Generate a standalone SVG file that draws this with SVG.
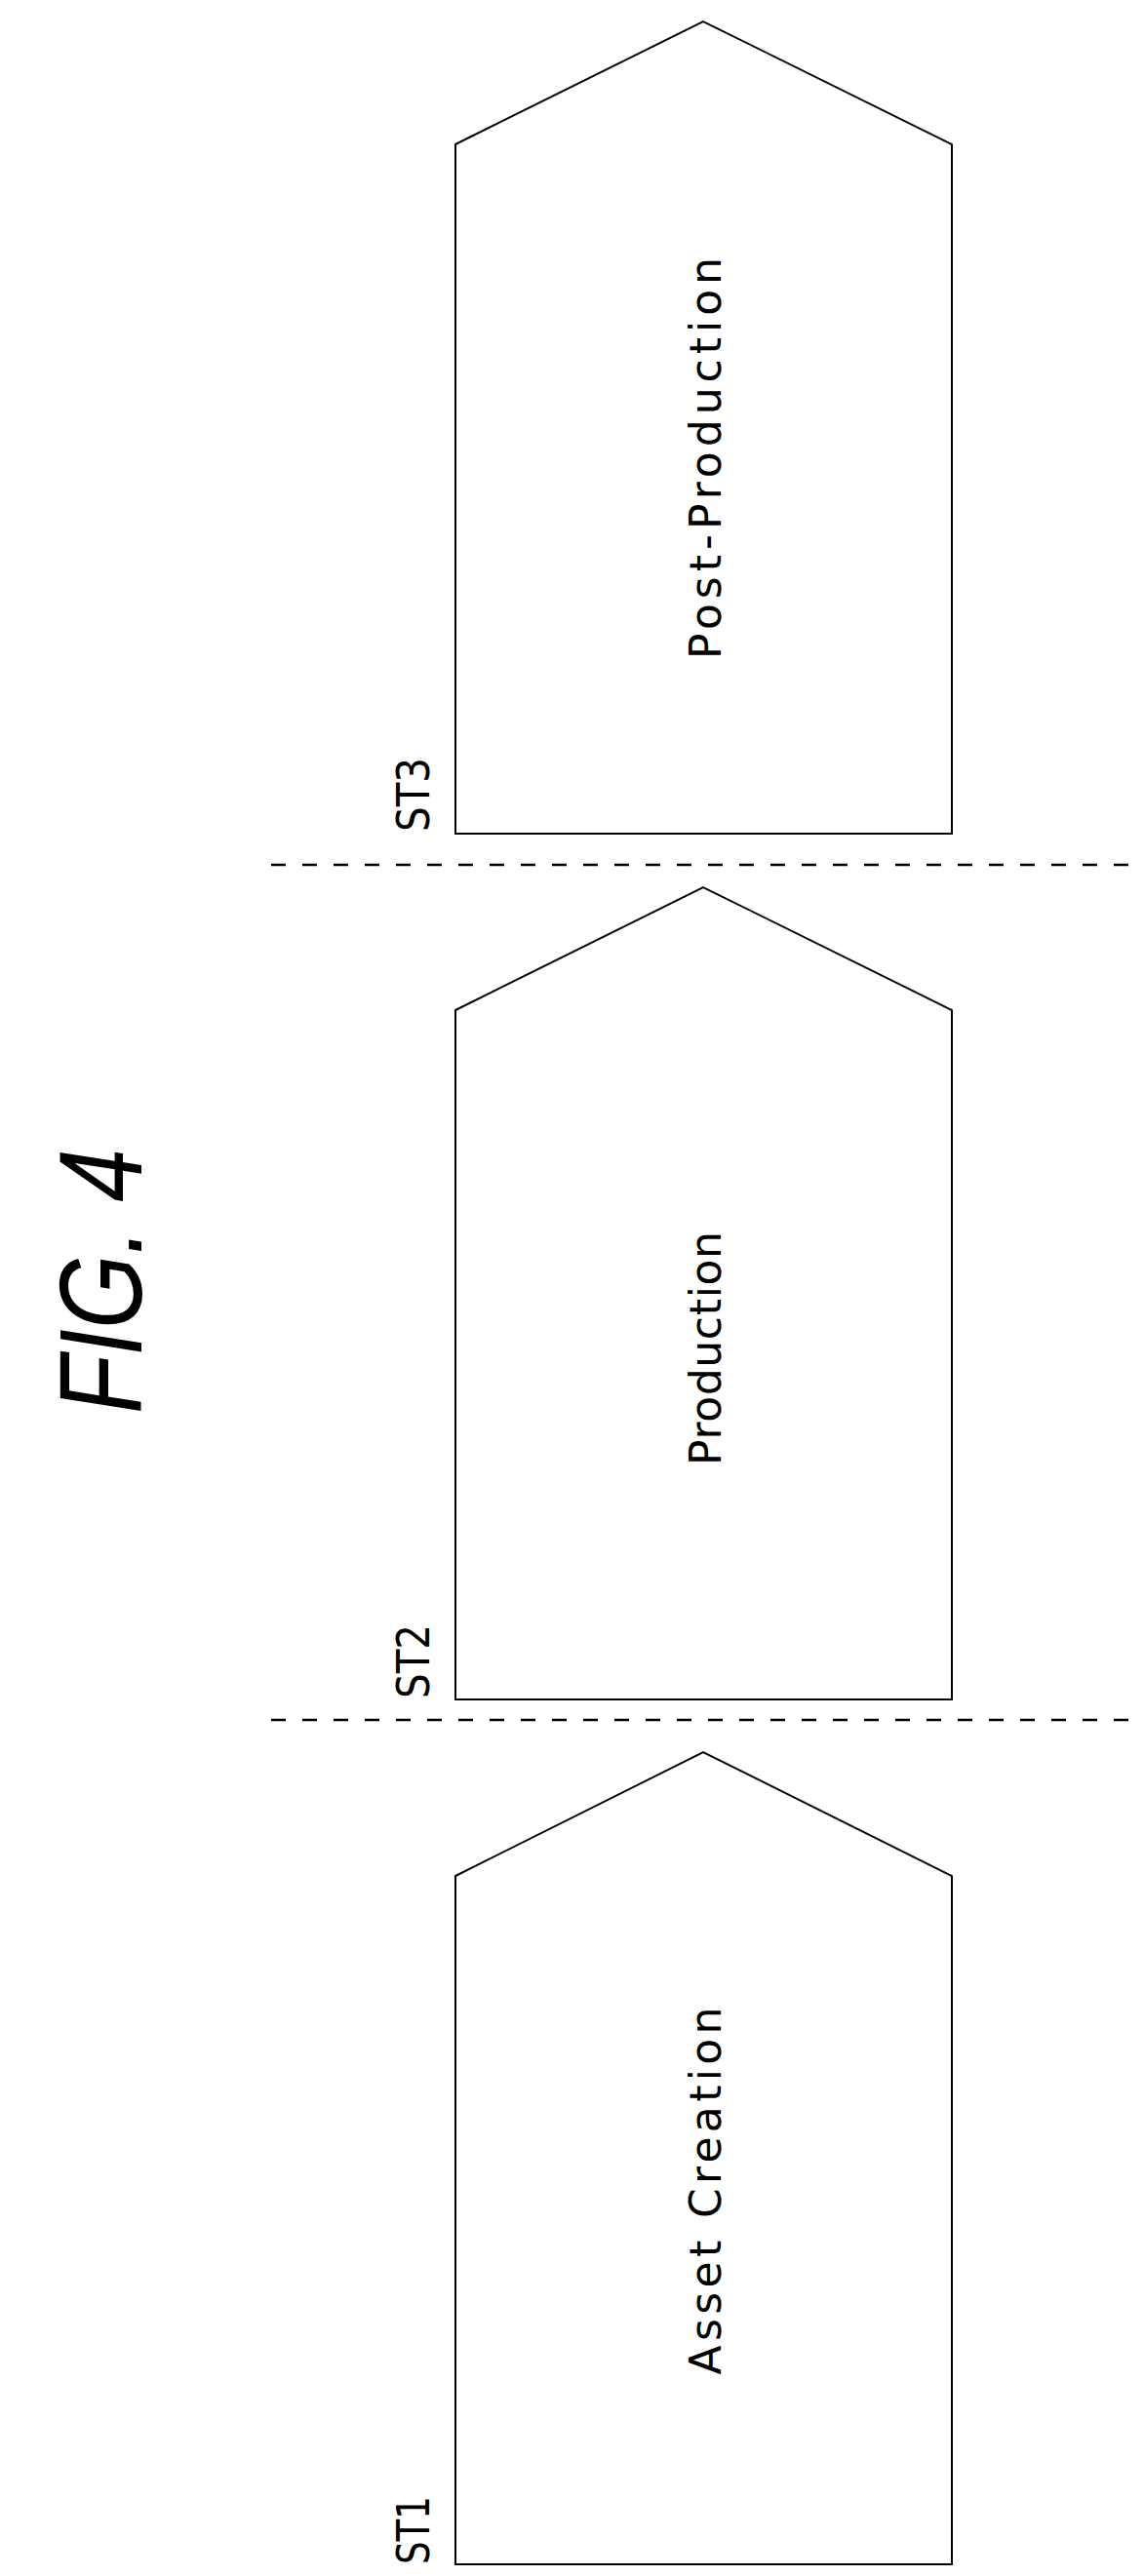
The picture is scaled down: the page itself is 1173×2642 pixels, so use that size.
<svg xmlns="http://www.w3.org/2000/svg" width="1173" height="2642" viewBox="0 0 1173 2642">
<style>
.box{fill:none;stroke:#000;stroke-width:2}
.dash{stroke:#000;stroke-width:2.5;stroke-dasharray:15 17}
.lbl{font-family:"DejaVu Sans",Arial,sans-serif;font-size:44px;fill:#000}
.st{font-family:"DejaVu Sans",Arial,sans-serif;font-size:46px;fill:#000}
</style>
<rect width="1173" height="2642" fill="#fff"/>
<g id="title"><text transform="translate(145,1314) rotate(-90)" text-anchor="middle" font-family="Liberation Sans,Arial,sans-serif" font-style="italic" font-size="120" textLength="272" lengthAdjust="spacingAndGlyphs">FIG. 4</text></g>
<g id="connectors">
<line class="dash" x1="278" y1="887" x2="1173" y2="887"/>
<line class="dash" x1="278" y1="1764" x2="1173" y2="1764"/>
</g>
<g id="st3">
<polygon class="box" points="467,148 721,22 976,148 976,855 467,855"/>
<text class="lbl" transform="translate(739,470) rotate(-90)" text-anchor="middle" textLength="412" lengthAdjust="spacing">Post-Production</text>
<text class="st" transform="translate(440,815) rotate(-90)" text-anchor="middle" textLength="76" lengthAdjust="spacingAndGlyphs">ST3</text>
</g>
<g id="st2">
<polygon class="box" points="467,1036 721,910 976,1036 976,1743 467,1743"/>
<text class="lbl" transform="translate(739,1383) rotate(-90)" text-anchor="middle" textLength="240" lengthAdjust="spacing">Production</text>
<text class="st" transform="translate(440,1704) rotate(-90)" text-anchor="middle" textLength="76" lengthAdjust="spacingAndGlyphs">ST2</text>
</g>
<g id="st1">
<polygon class="box" points="467,1924 721,1797 976,1924 976,2630 467,2630"/>
<text class="lbl" transform="translate(739,2247) rotate(-90)" text-anchor="middle" textLength="377" lengthAdjust="spacing">Asset Creation</text>
<text class="st" transform="translate(440,2595) rotate(-90)" text-anchor="middle" textLength="70" lengthAdjust="spacingAndGlyphs">ST1</text>
</g>
</svg>
